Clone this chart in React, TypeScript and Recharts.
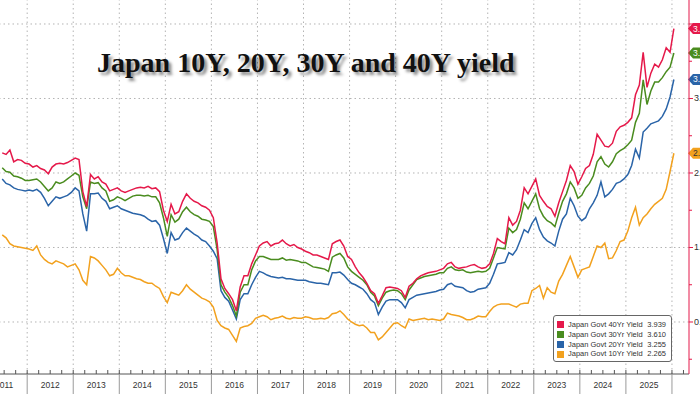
import React from "react";
import { LineChart, Line, XAxis, YAxis, ReferenceLine } from "recharts";

// monthly readings, Jun 2011 .. Jan 2026
const y40 = [
  2.27, 2.25, 2.31, 2.15, 2.18, 2.17, 2.13,
  2.12, 2.08, 2.10, 2.06, 2.04, 1.99, 2.08, 2.12, 2.13, 2.12, 2.14, 2.17,
  2.20, 2.18, 1.75, 1.55, 1.98, 1.92, 1.95, 1.88, 1.85, 1.76, 1.78, 1.80,
  1.76, 1.74, 1.76, 1.78, 1.80, 1.81, 1.80, 1.82, 1.79, 1.80, 1.75, 1.50,
  1.35, 1.58, 1.45, 1.48, 1.62, 1.72, 1.66, 1.62, 1.60, 1.56, 1.54, 1.50,
  1.40, 1.06, 0.58, 0.45, 0.38, 0.30, 0.15, 0.47, 0.62, 0.62, 0.78, 0.90,
  1.02, 1.06, 1.08, 1.02, 1.05, 1.06, 1.10, 1.05, 1.02, 1.04, 1.00, 0.98,
  0.95, 0.93, 0.90, 0.90, 0.88, 0.86, 0.84, 1.05, 1.08, 1.10, 1.02, 0.88,
  0.84, 0.74, 0.66, 0.60, 0.52, 0.42, 0.38, 0.25, 0.35, 0.46, 0.47, 0.46,
  0.45, 0.42, 0.33, 0.48, 0.52, 0.58, 0.62, 0.64, 0.66, 0.67, 0.68, 0.70,
  0.72, 0.78, 0.80, 0.74, 0.72, 0.73, 0.74, 0.76, 0.77, 0.74, 0.72, 0.73,
  0.78, 0.92, 1.12, 1.08, 1.05, 1.40, 1.30, 1.35, 1.50, 1.80, 1.72, 1.82,
  1.92, 1.70, 1.62, 1.55, 1.52, 1.42, 1.60, 1.75, 1.90, 2.10, 2.02, 1.85,
  1.95, 2.06, 2.10, 2.25, 2.52, 2.44, 2.36, 2.35, 2.40, 2.56, 2.62, 2.64,
  2.68, 2.74, 3.05, 3.18, 3.62, 3.15, 3.34, 3.46, 3.42, 3.52, 3.68, 3.62,
  3.939,
];

const y30 = [
  2.07, 2.02, 2.01, 1.96, 1.95, 1.93, 1.90,
  1.90, 1.91, 1.92, 1.88, 1.82, 1.76, 1.80, 1.88, 1.86, 1.88, 1.92, 1.96,
  2.00, 1.97, 1.68, 1.52, 1.88, 1.86, 1.87, 1.80, 1.76, 1.62, 1.64, 1.68,
  1.66, 1.63, 1.66, 1.69, 1.70, 1.70, 1.69, 1.70, 1.68, 1.68, 1.60, 1.40,
  1.15, 1.44, 1.34, 1.38, 1.48, 1.54, 1.48, 1.44, 1.42, 1.38, 1.37, 1.35,
  1.28, 0.97, 0.50, 0.40, 0.33, 0.22, 0.08, 0.40, 0.50, 0.50, 0.70, 0.82,
  0.88, 0.88, 0.86, 0.84, 0.84, 0.84, 0.86, 0.83, 0.84, 0.83, 0.82, 0.80,
  0.80, 0.77, 0.74, 0.73, 0.72, 0.71, 0.68, 0.87, 0.90, 0.92, 0.86, 0.74,
  0.68, 0.64, 0.60, 0.56, 0.50, 0.40, 0.35, 0.22, 0.32, 0.40, 0.42, 0.43,
  0.42, 0.38, 0.30, 0.43, 0.50, 0.57, 0.59, 0.61, 0.62, 0.63, 0.64, 0.66,
  0.66, 0.72, 0.74, 0.70, 0.69, 0.70, 0.67, 0.66, 0.67, 0.68, 0.67, 0.68,
  0.72, 0.86, 1.00, 0.99, 0.98, 1.26, 1.20, 1.24, 1.38, 1.60, 1.52, 1.62,
  1.72, 1.52, 1.42, 1.36, 1.33, 1.28, 1.46, 1.62, 1.72, 1.88, 1.80, 1.66,
  1.70, 1.80, 1.86, 1.96, 2.15, 2.22, 2.12, 2.08, 2.15, 2.26, 2.30, 2.33,
  2.38, 2.44, 2.68, 2.80, 3.25, 2.92, 3.10, 3.22, 3.22, 3.28, 3.36, 3.42,
  3.61,
];

const y20 = [
  1.92, 1.86, 1.84, 1.80, 1.78, 1.77, 1.76,
  1.77, 1.76, 1.78, 1.74, 1.66, 1.56, 1.62, 1.68, 1.66, 1.68, 1.70, 1.74,
  1.80, 1.76, 1.45, 1.22, 1.72, 1.72, 1.73, 1.66, 1.62, 1.52, 1.54, 1.56,
  1.52, 1.50, 1.48, 1.46, 1.45, 1.44, 1.42, 1.38, 1.35, 1.36, 1.30, 1.12,
  0.92, 1.20, 1.10, 1.12, 1.20, 1.26, 1.22, 1.18, 1.15, 1.10, 1.08, 1.02,
  0.95, 0.85, 0.42, 0.33, 0.28, 0.16, 0.04, 0.30, 0.38, 0.38, 0.50, 0.60,
  0.68, 0.66, 0.63, 0.61, 0.60, 0.59, 0.60, 0.58, 0.58, 0.57, 0.56, 0.56,
  0.56, 0.54, 0.53, 0.52, 0.52, 0.51, 0.50, 0.66, 0.66, 0.67, 0.63, 0.57,
  0.52, 0.50, 0.47, 0.44, 0.38, 0.30, 0.26, 0.10, 0.20, 0.28, 0.30, 0.30,
  0.30, 0.26, 0.19, 0.30, 0.33, 0.36, 0.37, 0.38, 0.39, 0.40, 0.41, 0.43,
  0.44, 0.50, 0.52, 0.48, 0.47, 0.46, 0.42, 0.40, 0.41, 0.44, 0.45, 0.46,
  0.52, 0.64, 0.78, 0.79, 0.80, 0.93, 0.90, 0.97, 1.10, 1.24, 1.20, 1.32,
  1.40, 1.24, 1.14, 1.09, 1.06, 1.02, 1.22, 1.38, 1.45, 1.66, 1.56, 1.42,
  1.36, 1.40, 1.52, 1.60, 1.70, 1.88, 1.68, 1.72, 1.78, 1.86, 1.88, 1.92,
  1.98, 2.10, 2.32, 2.20, 2.55, 2.60, 2.66, 2.68, 2.70, 2.76, 2.86, 3.02,
  3.255,
];

const y10 = [
  1.17, 1.13, 1.05, 1.02, 1.01, 1.00, 0.99,
  0.98, 0.96, 1.02, 0.90, 0.84, 0.80, 0.78, 0.82, 0.80, 0.78, 0.74, 0.76,
  0.78, 0.70, 0.56, 0.50, 0.88, 0.86, 0.82, 0.76, 0.70, 0.62, 0.64, 0.72,
  0.66, 0.62, 0.62, 0.60, 0.58, 0.57, 0.54, 0.52, 0.52, 0.48, 0.45, 0.34,
  0.26, 0.40, 0.38, 0.36, 0.42, 0.50, 0.44, 0.40, 0.36, 0.32, 0.30, 0.27,
  0.20, 0.02, -0.05, -0.08, -0.10, -0.18, -0.26, -0.08, -0.06, -0.05, -0.02, 0.05,
  0.07, 0.09, 0.07, 0.03, 0.05, 0.06, 0.08, 0.05, 0.04, 0.06, 0.05, 0.05,
  0.07, 0.06, 0.04, 0.04, 0.05, 0.04, 0.06, 0.11, 0.12, 0.15, 0.10, 0.04,
  0.00, -0.03, -0.05, -0.04, -0.08, -0.14, -0.14, -0.24, -0.20, -0.14, -0.08, -0.02,
  -0.01, -0.05, -0.08, 0.04, 0.02, 0.03, 0.04, 0.05, 0.03, 0.04, 0.03, 0.02,
  0.04, 0.12, 0.10, 0.09, 0.08, 0.06, 0.03, 0.03, 0.05, 0.08, 0.07, 0.07,
  0.14, 0.20, 0.23, 0.24, 0.24, 0.24, 0.22, 0.20, 0.24, 0.25, 0.25, 0.42,
  0.45, 0.49, 0.32, 0.46, 0.40, 0.38, 0.55, 0.64, 0.76, 0.88, 0.74, 0.60,
  0.70, 0.72, 0.74, 0.88, 1.02, 1.00, 1.06, 0.85, 0.86, 0.96, 1.08, 1.10,
  1.22, 1.40, 1.54, 1.30, 1.40, 1.45, 1.52, 1.58, 1.62, 1.66, 1.78, 2.02,
  2.265,
];

const series = [
  { key: "y40", name: "Japan Govt 40Yr Yield", color: "#e5194a", values: y40, text: "#fff" },
  { key: "y30", name: "Japan Govt 30Yr Yield", color: "#4a8c1f", values: y30, text: "#fff" },
  { key: "y20", name: "Japan Govt 20Yr Yield", color: "#2a64a8", values: y20, text: "#fff" },
  { key: "y10", name: "Japan Govt 10Yr Yield", color: "#f2a11e", values: y10, text: "#333" },
];

const yearLines = [2012, 2013, 2014, 2015, 2016, 2017, 2018, 2019, 2020, 2021, 2022, 2023, 2024, 2025, 2026];
const yGrid = [0, 1, 2, 3, 4];
const yTicks = [-0.5, 0, 0.5, 1, 1.5, 2, 2.5, 3, 3.5, 4];
const xDomain = [2011.41, 2026.37];
const yDomain = [-0.698, 4.322];

// month midpoints starting June 2011
const data = y40.map((_, i) => ({
  t: 2011 + (5 + i + 0.5) / 12,
  y40: y40[i],
  y30: y30[i],
  y20: y20[i],
  y10: y10[i],
}));

const quarterTicks: number[] = [];
for (let q = 2011.5; q <= 2026.25; q += 0.25) quarterTicks.push(q);

const W = 700;
const H = 394;
const SANS = "'Liberation Sans', Arial, sans-serif";

function XTick(props: any) {
  const { x, y, payload } = props;
  const v = payload.value;
  const frac = Math.round((v - Math.floor(v)) * 4);
  return (
    <g>
      <line x1={x} x2={x} y1={y - 4} y2={y} stroke="#555" />
      {frac === 0 && <line x1={x} x2={x} y1={y} y2={H} stroke="#9a9a9a" />}
      {frac === 2 && (
        <text x={x} y={y + 14} textAnchor="middle" fontSize={8.5} fill="#333" fontFamily={SANS}>
          {Math.floor(v)}
        </text>
      )}
    </g>
  );
}

function YTick(props: any) {
  const { x, y, payload } = props;
  const v = payload.value;
  const major = Number.isInteger(v);
  return (
    <g>
      <line x1={x} x2={x + (major ? 4 : 3)} y1={y} y2={y} stroke="#e5194a" />
      {major && v < 4 && (
        <text x={x + 5} y={y + 3} fontSize={9} fill="#333" fontFamily={SANS}>
          {v.toFixed(1)}
        </text>
      )}
    </g>
  );
}

function Tag(props: any) {
  const { viewBox, color, text, value } = props;
  if (!viewBox) return null;
  const x = viewBox.x + viewBox.width;
  const y = viewBox.y;
  return (
    <g>
      <polygon
        points={`${x - 1},${y} ${x + 4},${y - 5.5} ${x + 20},${y - 5.5} ${x + 20},${y + 5.5} ${x + 4},${y + 5.5}`}
        fill={color}
      />
      <text x={x + 4} y={y + 3} fontSize={8.5} fill={text} fontFamily={SANS}>
        {value.toFixed(3)}
      </text>
    </g>
  );
}

export default function App() {
  return (
    <div style={{ position: "absolute", left: 0, top: 0, width: W, height: H, background: "#fff", overflow: "hidden" }}>
      <LineChart width={W} height={H} data={data} margin={{ top: 0, right: 0, bottom: 0, left: 0 }}>
        <XAxis
          dataKey="t"
          type="number"
          domain={xDomain}
          allowDataOverflow
          ticks={quarterTicks}
          interval={0}
          height={20}
          tickSize={0}
          tickMargin={0}
          tickLine={false}
          axisLine={{ stroke: "#555" }}
          tick={<XTick />}
        />
        <YAxis
          type="number"
          orientation="right"
          domain={yDomain}
          allowDataOverflow
          ticks={yTicks}
          interval={0}
          width={11}
          tickSize={0}
          tickMargin={0}
          tickLine={false}
          axisLine={{ stroke: "#e5194a" }}
          tick={<YTick />}
        />
        {yGrid.map((v) => (
          <ReferenceLine key={`h${v}`} y={v} stroke="#b4b4b4" strokeDasharray="1.5 3" />
        ))}
        {yearLines.map((v) => (
          <ReferenceLine key={`v${v}`} x={v} stroke="#b4b4b4" strokeDasharray="1.5 3" />
        ))}
        {[...series].reverse().map((s) => (
          <Line
            key={s.key}
            dataKey={s.key}
            stroke={s.color}
            strokeWidth={1.5}
            dot={false}
            activeDot={false}
            legendType="none"
            type="linear"
            isAnimationActive={false}
          />
        ))}
        {series.map((s) => (
          <ReferenceLine
            key={`tag${s.key}`}
            y={s.values[s.values.length - 1]}
            stroke="none"
            label={<Tag color={s.color} text={s.text} value={s.values[s.values.length - 1]} />}
          />
        ))}
      </LineChart>

      <div
        style={{
          position: "absolute",
          left: 97,
          top: 49,
          whiteSpace: "nowrap",
          fontFamily: "'Liberation Serif', 'Times New Roman', serif",
          fontWeight: "bold",
          fontSize: 28,
          lineHeight: "28px",
          color: "#111",
          textShadow: "3px 3px 3px rgba(0,0,0,0.45)",
        }}
      >
        Japan 10Y, 20Y, 30Y and 40Y yield
      </div>

      <div
        style={{
          position: "absolute",
          left: 553,
          top: 315,
          width: 119,
          height: 47,
          boxSizing: "border-box",
          border: "1px solid #666",
          borderRadius: 3,
          background: "#fff",
          padding: "4px 5px 0 3px",
          fontFamily: SANS,
          fontSize: 7.5,
          color: "#333",
        }}
      >
        {series.map((s) => (
          <div key={s.key} style={{ display: "flex", alignItems: "center", height: 9.8, lineHeight: "9.8px" }}>
            <span style={{ width: 7, height: 7, background: s.color, marginRight: 4, flex: "none" }} />
            <span style={{ flex: 1, whiteSpace: "nowrap" }}>{s.name}</span>
            <span style={{ marginLeft: 3 }}>{s.values[s.values.length - 1].toFixed(3)}</span>
          </div>
        ))}
      </div>
    </div>
  );
}
